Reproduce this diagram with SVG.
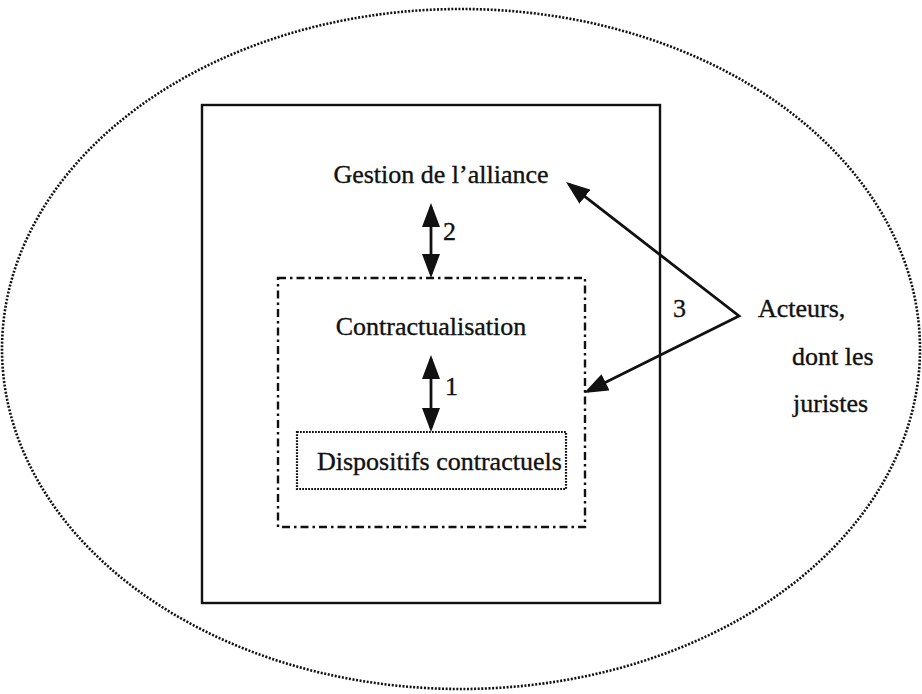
<svg xmlns="http://www.w3.org/2000/svg" width="922" height="694" viewBox="0 0 922 694">
  <style>
    text { font-family: "Liberation Serif", "Times New Roman", serif; font-size: 26px; fill: #111; stroke: #111; stroke-width: 0.35; }
    .env { fill: none; stroke: #111; stroke-width: 2.6; stroke-dasharray: 2 1.6; }
    .frame { fill: none; stroke: #111; stroke-width: 2.4; }
    .dashdot { fill: none; stroke: #111; stroke-width: 2.4; stroke-dasharray: 8 4 2.5 4; }
    .dotted { fill: none; stroke: #111; stroke-width: 2.2; stroke-dasharray: 1.8 1.2; }
    .conn { fill: none; stroke: #111; stroke-width: 2.8; stroke-linejoin: miter; }
  </style>
  <defs>
    <marker id="head" viewBox="0 0 24 18" markerUnits="userSpaceOnUse" markerWidth="24" markerHeight="18" refX="20" refY="9" orient="auto-start-reverse">
      <path d="M0,0 L24,9 L0,18 z" fill="#111"/>
    </marker>
  </defs>

  <!-- environment -->
  <g id="environment">
    <ellipse class="env" cx="461" cy="349" rx="459" ry="340"/>
  </g>

  <!-- alliance management frame -->
  <g id="gestion">
    <rect class="frame" x="202" y="105" width="458" height="498"/>
    <text x="441" y="183" text-anchor="middle">Gestion de l’alliance</text>
  </g>

  <!-- contracting -->
  <g id="contractualisation">
    <rect class="dashdot" x="278" y="278" width="307" height="249"/>
    <text x="431" y="335" text-anchor="middle">Contractualisation</text>
  </g>

  <!-- contractual devices -->
  <g id="dispositifs">
    <rect class="dotted" x="297" y="432" width="269" height="57"/>
    <text x="317" y="470">Dispositifs contractuels</text>
  </g>

  <!-- actors -->
  <g id="acteurs">
    <text x="758" y="317">Acteurs,</text>
    <text x="792" y="365">dont les</text>
    <text x="793" y="412">juristes</text>
  </g>

  <!-- connectors -->
  <g id="connectors">
    <line class="conn" x1="431" y1="207" x2="431" y2="274" marker-start="url(#head)" marker-end="url(#head)"/>
    <text x="443" y="240">2</text>
    <line class="conn" x1="431" y1="359" x2="431" y2="428" marker-start="url(#head)" marker-end="url(#head)"/>
    <text x="445" y="395">1</text>
    <polyline class="conn" points="569.2,184.4 739,316 587.6,391.2" marker-start="url(#head)" marker-end="url(#head)"/>
    <text x="673" y="317">3</text>
  </g>
</svg>
